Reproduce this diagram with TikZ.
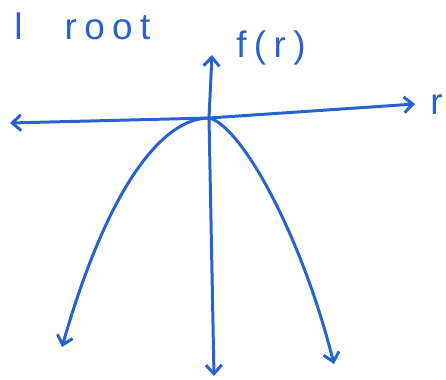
\documentclass[tikz,border=0pt]{standalone}
\usepackage{fontspec}
\setsansfont{Liberation Sans}
\usetikzlibrary{arrows.meta}
\definecolor{pen}{RGB}{38,98,208}
\tikzset{
  ink/.style={draw=pen,line width=1.7pt,line cap=round,line join=round,-{Straight Barb[length=5pt,width=9pt,line width=1.7pt]}},
  hand/.style={text=pen,font=\sffamily\fontsize{21}{21}\selectfont\addfontfeature{LetterSpace=20},inner sep=0pt}
}
\begin{document}
\begin{tikzpicture}[x=0.02cm,y=-0.02cm]
  \useasboundingbox (0,0) rectangle (446,379);
  % ejes
  \coordinate (o) at (209,118);
  \coordinate (xl) at (10,123);
  \coordinate (xr) at (415,104);
  \coordinate (yt) at (212,55);
  \coordinate (yb) at (214,376);
  \draw[ink] (o) -- (xl);
  \draw[ink] (o) -- (xr);
  \draw[ink] (o) -- (yt);
  \draw[ink] (o) -- (yb);
  \node[hand,anchor=base west] (fr) at (236,57) {f(r)};
  \node[hand,anchor=base west] (r) at (430,114) {r};
  \node[hand,anchor=base west] (root) at (14,39) {l\hspace{24pt}root};
  % parabola
  \draw[ink] (o) .. controls (165,118) and (110,180) .. (62,347);
  \draw[ink] (o) .. controls (240,125) and (300,230) .. (334,364);
\end{tikzpicture}
\end{document}
